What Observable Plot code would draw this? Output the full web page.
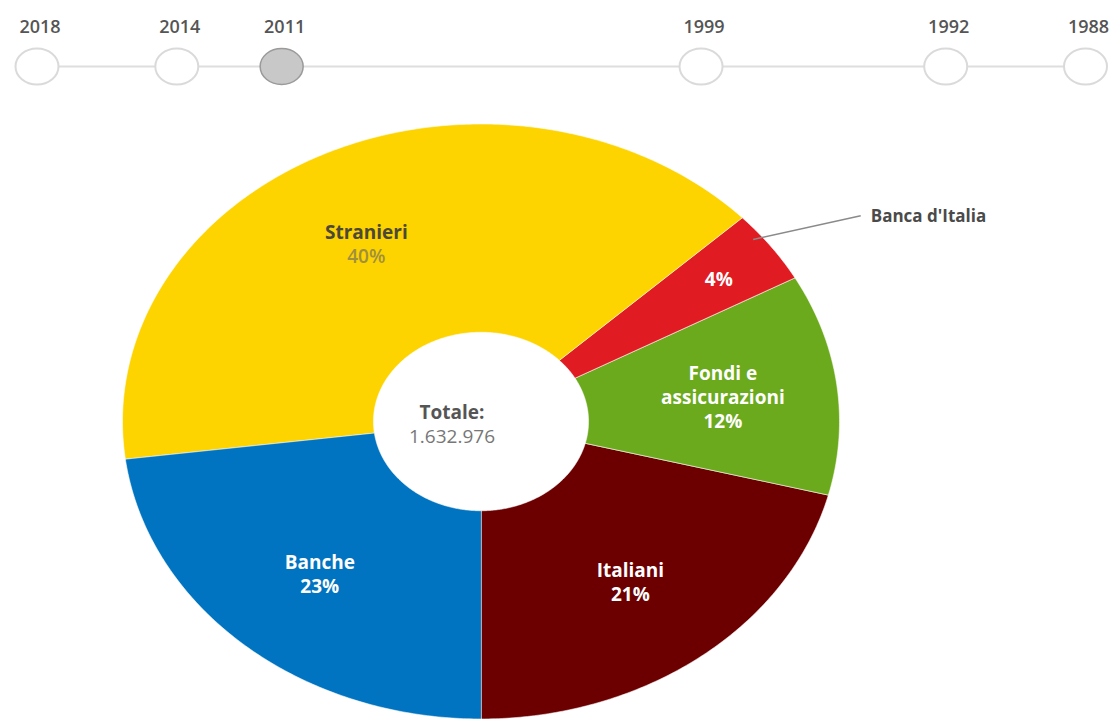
<!DOCTYPE html>
<html><head><meta charset="utf-8">
<script src="https://cdn.jsdelivr.net/npm/d3@7"></script>
<script src="https://cdn.jsdelivr.net/npm/@observablehq/plot@0.6"></script>
<style>
body{margin:0;background:#fff;}
#chart svg{display:block;}
</style></head><body><div id="chart"></div>
<script>
// ---- data ----
const years = [2018, 2014, 2011, 1999, 1992, 1988];
const selectedYear = 2011;
const categories = ["Banca d'Italia", "Fondi e assicurazioni", "Italiani", "Banche", "Stranieri"];
const shares = [4, 12, 21, 23, 40];
const sliceColors = ["#e11b22", "#6caa1d", "#6c0000", "#0074c0", "#fdd300"];
const sliceLabels = ["", "Fondi e\nassicurazioni", "Italiani", "Banche", "Stranieri"];
const externalLabel = "Banca d'Italia";
const totalLabel = "Totale:";
const totalValue = 1632976;

const itFormat = d3.formatLocale({decimal: ",", thousands: ".", grouping: [3], currency: ["€", ""]}).format(",d");
const font = "'Open Sans', sans-serif";

// ---- timeline ----
const ellipseSymbol = {
  draw(ctx, size) {
    const r = Math.sqrt(size / Math.PI), rx = r * 1.075, ry = r * 0.9, k = 0.5523;
    ctx.moveTo(rx, 0);
    ctx.bezierCurveTo(rx, ry * k, rx * k, ry, 0, ry);
    ctx.bezierCurveTo(-rx * k, ry, -rx, ry * k, -rx, 0);
    ctx.bezierCurveTo(-rx, -ry * k, -rx * k, -ry, 0, -ry);
    ctx.bezierCurveTo(rx * k, -ry, rx, -ry * k, rx, 0);
    ctx.closePath();
  }
};

const timeline = Plot.plot({
  width: 1117, height: 100, margin: 0, marginTop: 32,
  style: {background: "white", fontFamily: font, overflow: "visible"},
  x: {domain: [d3.max(years), d3.min(years)], range: [36.5, 1085], axis: null},
  y: {domain: [-1, 1], axis: null},
  marks: [
    Plot.ruleY([0], {x1: d3.max(years), x2: d3.min(years), stroke: "#dedede", strokeWidth: 2}),
    Plot.dot(years.filter(y => y !== selectedYear), {x: d => d, y: 0, r: 20, symbol: ellipseSymbol, fill: "#fff", stroke: "#dadada", strokeWidth: 2}),
    Plot.dot([selectedYear], {x: d => d, y: 0, r: 20, symbol: ellipseSymbol, fill: "#c8c8c8", stroke: "#9a9a9a", strokeWidth: 1.5}),
    Plot.text(years, {x: d => d, y: 0, dx: 3, dy: -39, text: d => String(d), fontSize: 18, fontWeight: 600, fill: "#555"})
  ]
});

// ---- donut geometry ----
const sum = d3.sum(shares);
const bottomIdx = categories.indexOf("Banche");
const start = Math.PI - 2 * Math.PI * d3.sum(shares.slice(0, bottomIdx)) / sum;
const arcs = d3.pie().sort(null).startAngle(start).endAngle(start + 2 * Math.PI)(shares);
const R0 = 0.3, R1 = 1;
const polys = [];
arcs.forEach((a, i) => {
  const n = Math.max(8, Math.ceil((a.endAngle - a.startAngle) / 0.01));
  for (let k = 0; k <= n; k++) {
    const t = a.startAngle + (a.endAngle - a.startAngle) * k / n;
    polys.push({cat: categories[i], x: R1 * Math.sin(t), y: R1 * Math.cos(t)});
  }
  for (let k = n; k >= 0; k--) {
    const t = a.startAngle + (a.endAngle - a.startAngle) * k / n;
    polys.push({cat: categories[i], x: R0 * Math.sin(t), y: R0 * Math.cos(t)});
  }
});

const labels = arcs.map((a, i) => {
  const m = (a.startAngle + a.endAngle) / 2 - (shares[i] > 30 ? 0.05 : 0);
  const r = shares[i] < 8 ? 0.82 : 0.68;
  const pct = shares[i] + "%";
  return {
    cat: categories[i], pct,
    text: sliceLabels[i] ? sliceLabels[i] + "\n" + pct : pct,
    x: r * Math.sin(m), y: r * Math.cos(m), mid: m, dark: categories[i] === "Stranieri"
  };
});
const fs = 19;
const lineH = 24 / fs;
const bdi = labels.find(d => d.cat === externalLabel);
const leader = [{
  x1: 0.975 * Math.sin(bdi.mid - 0.05), y1: 0.975 * Math.cos(bdi.mid - 0.05)
}];
leader.forEach(d => { d.x2 = d.x1 + 0.30; d.y2 = d.y1 + 0.08; });

const pie = Plot.plot({
  width: 1117, height: 620, margin: 0,
  style: {background: "white", fontFamily: font, overflow: "visible"},
  x: {domain: [-1, 1], range: [122, 839], axis: null},
  y: {domain: [-1, 1], range: [618.5, 23.5], axis: null},
  color: {domain: categories, range: sliceColors},
  marks: [
    Plot.line(polys, {x: "x", y: "y", z: "cat", fill: "cat", stroke: "#fff", strokeWidth: 1, strokeOpacity: 0.55, curve: "linear-closed"}),
    // slice labels (name + share)
    Plot.text(labels.filter(d => !d.dark), {x: "x", y: "y", text: "text", lineHeight: lineH, fontSize: fs, fontWeight: "bold", fill: "#fff"}),
    Plot.text(labels.filter(d => d.dark), {x: "x", y: "y", text: "text", lineHeight: lineH, fontSize: fs, fontWeight: "bold", fill: "#4b4838"}),
    // external label
    Plot.link(leader, {x1: "x1", y1: "y1", x2: "x2", y2: "y2", stroke: "#8a8a8a", strokeWidth: 1.5}),
    Plot.text(leader, {x: "x2", y: "y2", text: () => externalLabel, textAnchor: "start", dx: 10, dy: 1, fontSize: 17, fontWeight: "bold", fill: "#4a4a4a"}),
    // total
    Plot.text([totalLabel], {x: 0, y: 0, text: d => d, dx: -29, dy: -9, fontSize: fs, fontWeight: "bold", fill: "#555"}),
    Plot.text([totalValue], {x: 0, y: 0, text: d => itFormat(d), dx: -29, dy: 15, fontSize: fs, fill: "#777"})
  ]
});

// the share line of the dark (yellow-slice) label is drawn in a lighter olive tone
const darkPct = labels.filter(d => d.dark).map(d => d.pct);
d3.select(pie).selectAll("tspan")
  .filter(function() { return darkPct.includes(this.textContent); })
  .attr("fill", "#a08f3e").attr("font-weight", 600);

const chart = document.getElementById("chart");
chart.appendChild(timeline);
chart.appendChild(pie);
</script>
</body></html>
